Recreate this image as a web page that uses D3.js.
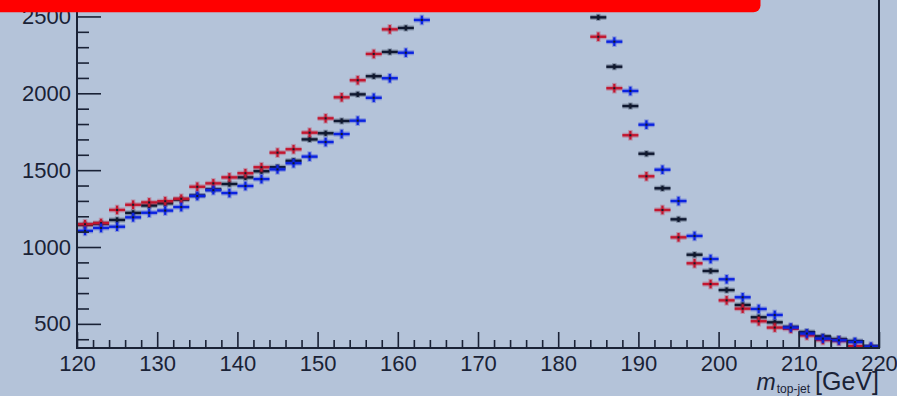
<!DOCTYPE html>
<html>
<head>
<meta charset="utf-8">
<script src="https://cdn.jsdelivr.net/npm/d3@7"></script>
<style>
  html, body { margin: 0; padding: 0; background: #b4c3d9; overflow: hidden; }
  svg { display: block; }
  text { font-family: "Liberation Sans", Arial, Helvetica, sans-serif; fill: #1a2236; }
</style>
</head>
<body>
<svg id="chart" width="897" height="396"></svg>
<script>
// Bin centres of the 2 GeV wide mass bins
const binCenters = [121,123,125,127,129,131,133,135,137,139,
                    141,143,145,147,149,151,153,155,157,159,
                    161,163,165,167,169,171,173,175,177,179,
                    181,183,185,187,189,191,193,195,197,199,
                    201,203,205,207,209,211,213,215,217,219];
const binWidth = 2;

// Entries per bin for the three jet-mass variations
const redCounts = [1148,1156,1241,1275,1290,1298,1314,1392,1414,1453,
                   1480,1519,1614,1636,1744,1837,1974,2085,2256,2416,
                   2580,2740,2900,3080,3230,3340,3400,3390,3310,3170,
                   2980,2720,2368,2033,1727,1460,1241,1063,894,759,
                   653,599,517,476,468,425,395,389,355,345];
const blackCounts = [1144,1152,1176,1222,1270,1284,1308,1335,1375,1410,
                     1453,1493,1519,1561,1700,1740,1820,1993,2111,2269,
                     2425,2590,2760,2940,3110,3250,3350,3400,3390,3300,
                     3120,2860,2494,2173,1917,1607,1382,1180,950,844,
                     720,623,543,510,480,447,418,401,388,352];
const blueCounts = [1105,1124,1132,1193,1223,1237,1260,1332,1370,1351,
                    1397,1442,1505,1545,1588,1683,1735,1822,1971,2098,
                    2264,2477,2650,2800,2970,3140,3280,3370,3410,3380,
                    3260,3020,2660,2336,2015,1796,1503,1299,1072,922,
                    790,673,597,558,476,437,404,393,382,352];

// Outlined reference histogram in the high-mass tail
const tailEdges = [210,212,214,216,218,220];
const tailCounts = [449,420,403,390,360];

// Statistical uncertainty drawn as vertical error bars
const redErr = 28, blackErr = 17, blueErr = 28;

// Axis labelling
const xTicks = [120,130,140,150,160,170,180,190,200,210,220];
const yTicks = [500,1000,1500,2000,2500];

const svg = d3.select("#chart");
const W = 897, H = 396;
const left = 77, right = 879, bottom = 348;

const x = d3.scaleLinear().domain([120, 220]).range([left, right]);
const y = d3.scaleLinear().domain([343, 2607]).range([bottom, 0]);

const ink = "#1a2236";

svg.append("rect").attr("width", W).attr("height", H).attr("fill", "#b4c3d9");

svg.append("defs").append("clipPath").attr("id", "plot")
  .append("rect").attr("x", left).attr("y", -20)
  .attr("width", right - left).attr("height", bottom + 20);

const plot = svg.append("g").attr("clip-path", "url(#plot)");

// tail histogram outline
const tail = tailCounts.map((v, i) => ({ lo: tailEdges[i], hi: tailEdges[i + 1], v }));
plot.append("g").selectAll("path").data(tail).join("path")
  .attr("d", d => `M${x(d.lo)},${y(343)}V${y(d.v)}H${x(d.hi)}V${y(343)}`)
  .attr("fill", "none").attr("stroke", "#4a5468").attr("stroke-width", 1.5)
  .attr("stroke-opacity", 0.85);

function drawSeries(counts, err, color) {
  const data = binCenters.map((c, i) => ({ c, v: counts[i] }));
  const g = plot.append("g");
  const pts = g.selectAll("g").data(data).join("g");
  // soft halo
  pts.append("line")
    .attr("x1", d => x(d.c - binWidth / 2)).attr("x2", d => x(d.c + binWidth / 2))
    .attr("y1", d => y(d.v)).attr("y2", d => y(d.v))
    .attr("stroke", color).attr("stroke-opacity", 0.28).attr("stroke-width", 5);
  pts.append("line")
    .attr("x1", d => x(d.c)).attr("x2", d => x(d.c))
    .attr("y1", d => y(d.v - err) + 1).attr("y2", d => y(d.v + err) - 1)
    .attr("stroke", color).attr("stroke-opacity", 0.28).attr("stroke-width", 4.5);
  // horizontal bin-width bar
  pts.append("line")
    .attr("x1", d => x(d.c - binWidth / 2)).attr("x2", d => x(d.c + binWidth / 2))
    .attr("y1", d => y(d.v)).attr("y2", d => y(d.v))
    .attr("stroke", color).attr("stroke-width", 2.4);
  // vertical error bar
  pts.append("line")
    .attr("x1", d => x(d.c)).attr("x2", d => x(d.c))
    .attr("y1", d => y(d.v - err)).attr("y2", d => y(d.v + err))
    .attr("stroke", color).attr("stroke-width", 2.2);
  // marker dot
  pts.append("rect")
    .attr("x", d => x(d.c) - 1).attr("y", d => y(d.v) - 1)
    .attr("width", 2).attr("height", 2).attr("fill", "#141a2a");
}

drawSeries(blackCounts, blackErr, "#0f1830");
drawSeries(redCounts, redErr, "#c3162f");
drawSeries(blueCounts, blueErr, "#0a22e0");

// ---- axes ----
function styleTicks(g) {
  g.select(".domain").remove();
  g.selectAll(".tick line").attr("stroke", ink).attr("stroke-width", 1.6);
}

const yMinor = d3.range(400, 2700, 100).filter(v => v % 500 !== 0);
svg.append("g").attr("transform", `translate(${left},0)`)
  .call(d3.axisRight(y).tickValues(yMinor).tickSize(12).tickFormat(""))
  .call(styleTicks);
svg.append("g").attr("transform", `translate(${left},0)`)
  .call(d3.axisRight(y).tickValues(yTicks).tickSize(24).tickFormat(""))
  .call(styleTicks);
const yLab = svg.append("g").attr("transform", `translate(${left},0)`)
  .call(d3.axisLeft(y).tickValues(yTicks).tickSize(0).tickPadding(6).tickFormat(d3.format("d")));
yLab.select(".domain").remove();
yLab.selectAll("text").attr("font-size", 22).attr("fill", ink)
  .attr("font-family", "Liberation Sans, Arial, sans-serif");

const xMinor = d3.range(122, 220, 2).filter(v => v % 10 !== 0);
svg.append("g").attr("transform", `translate(0,${bottom})`)
  .call(d3.axisTop(x).tickValues(xMinor).tickSize(8).tickFormat(""))
  .call(styleTicks);
svg.append("g").attr("transform", `translate(0,${bottom})`)
  .call(d3.axisTop(x).tickValues(xTicks).tickSize(16).tickFormat(""))
  .call(styleTicks);
const xLab = svg.append("g").attr("transform", `translate(0,${bottom})`)
  .call(d3.axisBottom(x).tickValues(xTicks).tickSize(0).tickPadding(7).tickFormat(d3.format("d")));
xLab.select(".domain").remove();
xLab.selectAll("text").attr("font-size", 22).attr("fill", ink)
  .attr("font-family", "Liberation Sans, Arial, sans-serif");

// frame lines
svg.append("line").attr("x1", left).attr("x2", left).attr("y1", 0).attr("y2", bottom + 1)
  .attr("stroke", ink).attr("stroke-width", 2);
svg.append("line").attr("x1", left - 1).attr("x2", right + 1).attr("y1", bottom).attr("y2", bottom)
  .attr("stroke", ink).attr("stroke-width", 2);
svg.append("line").attr("x1", right).attr("x2", right).attr("y1", 0).attr("y2", bottom)
  .attr("stroke", ink).attr("stroke-width", 2);

// axis title
const title = svg.append("text").attr("x", 879).attr("y", 390)
  .attr("text-anchor", "end").attr("font-size", 25);
title.append("tspan").attr("font-style", "italic").attr("font-size", 23).text("m");
title.append("tspan").attr("font-size", 12).attr("dy", 3).attr("dx", 1).text("top-jet");
title.append("tspan").attr("dy", -3).attr("dx", 5).text("[GeV]");

// header banner
svg.append("rect").attr("x", -10).attr("y", -10).attr("width", 770.5).attr("height", 22.3)
  .attr("rx", 7).attr("fill", "#ff0000");
</script>
</body>
</html>
